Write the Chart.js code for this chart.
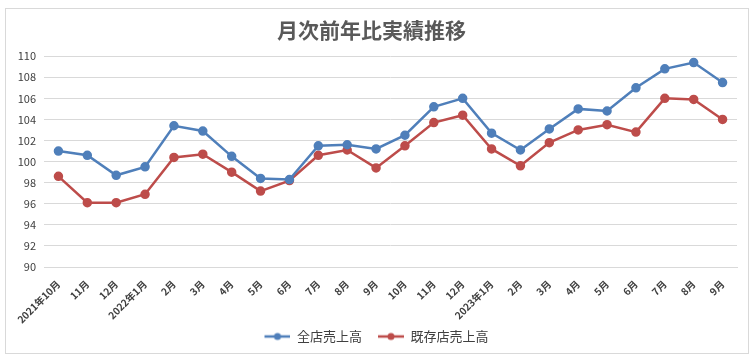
<!DOCTYPE html>
<html>
<head>
<meta charset="utf-8">
<script src="https://cdn.jsdelivr.net/npm/chart.js@4.4.0/dist/chart.umd.min.js"></script>
<style>
  html, body { margin: 0; padding: 0; background: #fff; }
  #box { position: absolute; left: 5px; top: 8px; width: 744px; height: 346px; border: 1px solid #d9d9d9; box-sizing: border-box; }
</style>
</head>
<body>
<div id="box"><canvas id="myChart" width="742" height="344"></canvas></div>
<script>
// month labels (x axis)
var months = ['2021年10月','11月','12月','2022年1月','2月','3月','4月','5月','6月','7月','8月','9月',
              '10月','11月','12月','2023年1月','2月','3月','4月','5月','6月','7月','8月','9月'];
// 全店売上高 (previous-year ratio, %)
var allStores = [101.0,100.6,98.7,99.5,103.4,102.9,100.5,98.4,98.3,101.5,101.6,101.2,
                 102.5,105.2,106.0,102.7,101.1,103.1,105.0,104.8,107.0,108.8,109.4,107.5];
// 既存店売上高
var existingStores = [98.6,96.1,96.1,96.9,100.4,100.7,99.0,97.2,98.2,100.6,101.1,99.4,
                      101.5,103.7,104.4,101.2,99.6,101.8,103.0,103.5,102.8,106.0,105.9,104.0];
var yTicks = { min: 90, max: 110, step: 2 };

var blue = '#4f7fba';
var red = '#bd4c4a';
var font = '"Noto Sans CJK JP", "Noto Sans", sans-serif';

// legend marker: short line with a dot, like the office chart (blank gap on the left)
function legendMark(color) {
  var c = document.createElement('canvas');
  c.width = 36; c.height = 10;
  var g = c.getContext('2d');
  g.strokeStyle = color; g.lineWidth = 2.5;
  g.beginPath(); g.moveTo(10, 5); g.lineTo(36, 5); g.stroke();
  g.fillStyle = color;
  g.beginPath(); g.arc(23, 5, 3.5, 0, Math.PI * 2); g.fill();
  return c;
}

var ctx = document.getElementById('myChart').getContext('2d');
var chart = new Chart(ctx, {
  type: 'line',
  data: {
    labels: months,
    datasets: [
      { label: '全店売上高', data: allStores, borderColor: blue, backgroundColor: blue,
        borderWidth: 2.5, pointRadius: 3.5, pointHoverRadius: 3.5, tension: 0 },
      { label: '既存店売上高', data: existingStores, borderColor: red, backgroundColor: red,
        borderWidth: 2.5, pointRadius: 3.5, pointHoverRadius: 3.5, tension: 0 }
    ]
  },
  options: {
    responsive: false,
    animation: false,
    layout: { padding: { top: 5, right: 11, bottom: 0, left: 0 } },
    plugins: {
      title: {
        display: true,
        text: '月次前年比実績推移',
        color: '#595959',
        font: { family: font, size: 21, weight: 'bold' },
        padding: { top: 3, bottom: 14 }
      },
      legend: {
        position: 'bottom',
        labels: {
          color: '#404040',
          font: { family: font, size: 13 },
          usePointStyle: true,
          pointStyleWidth: 36,
          padding: 6,
          generateLabels: function(ch) {
            return ch.data.datasets.map(function(ds, i) {
              return { text: ds.label, pointStyle: legendMark(ds.borderColor), fillStyle: ds.borderColor,
                       strokeStyle: ds.borderColor, lineWidth: 0, hidden: false, datasetIndex: i, fontColor: '#404040' };
            });
          }
        }
      },
      tooltip: { enabled: false }
    },
    scales: {
      x: {
        offset: true,
        grid: { display: false },
        border: { color: '#d9d9d9' },
        ticks: { color: '#404040', font: { family: font, size: 10, weight: 'bold' },
                 minRotation: 45, maxRotation: 45, autoSkip: false, padding: 3 },
        afterFit: function(s) { s.height = 57; }
      },
      y: {
        min: yTicks.min, max: yTicks.max,
        grid: { color: '#d9d9d9', drawTicks: false },
        border: { display: false },
        ticks: { stepSize: yTicks.step, color: '#404040', font: { family: font, size: 11 }, padding: 8 },
        afterFit: function(s) { s.width = 38; }
      }
    }
  }
});
</script>
</body>
</html>
